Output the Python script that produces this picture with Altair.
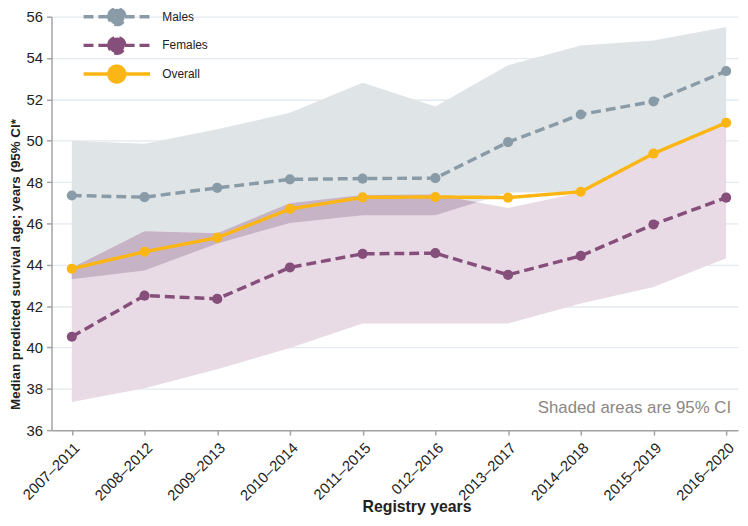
import json
import altair as alt
import pandas as pd

# ---------------- data ----------------
periods = ["2007–2011", "2008–2012", "2009–2013", "2010–2014", "2011–2015",
           "012–2016", "2013–2017", "2014–2018", "2015–2019", "2016–2020"]
series_names = ["Males", "Females", "Overall"]

males = [47.35, 47.27, 47.72, 48.13, 48.17, 48.19, 49.93, 51.27, 51.90, 53.37]
females = [40.52, 42.51, 42.35, 43.87, 44.53, 44.56, 43.51, 44.43, 45.95, 47.25]
overall = [43.81, 44.63, 45.31, 46.70, 47.26, 47.28, 47.25, 47.53, 49.38, 50.87]

males_hi = [50.00, 49.85, 50.55, 51.35, 52.80, 51.65, 53.65, 54.60, 54.85, 55.50]
males_lo = [43.30, 43.72, 45.03, 46.02, 46.39, 46.40, 47.50, 47.50, 49.38, 50.87]
females_hi = [43.85, 45.62, 45.53, 46.98, 47.38, 47.40, 46.75, 47.50, 49.38, 50.87]
females_lo = [37.36, 38.03, 38.95, 39.97, 41.16, 41.16, 41.16, 42.13, 42.92, 44.32]

note_text = "Shaded areas are 95% CI"

# ---------------- tables built from the arrays ----------------
n = len(periods)
idx = list(range(n))
band_df = pd.DataFrame({"idx": idx, "m_lo": males_lo, "m_hi": males_hi,
                        "f_lo": females_lo, "f_hi": females_hi})

# overlap of the two confidence bands (where both are present)
def top(i):
    return min(males_hi[i], females_hi[i])

def bot(i):
    return max(males_lo[i], females_lo[i])

ov_rows = []
for i in idx:
    d0 = top(i) - bot(i)
    if d0 > 0:
        ov_rows.append({"idx": i, "lo": bot(i), "hi": top(i)})
    if i < n - 1:
        d1 = top(i + 1) - bot(i + 1)
        if (d0 > 0) != (d1 > 0) and d0 != d1:
            t = d0 / (d0 - d1)
            yc = top(i) + t * (top(i + 1) - top(i))
            ov_rows.append({"idx": i + t, "lo": yc, "hi": yc})
overlap_df = pd.DataFrame(ov_rows)

long_rows = []
for name, vals in zip(series_names, [males, females, overall]):
    for i, v in zip(idx, vals):
        long_rows.append({"series": name, "idx": i, "value": v})
long_df = pd.DataFrame(long_rows)
note_df = pd.DataFrame({"note": [note_text]})

# ---------------- styling ----------------
FONT = "Liberation Sans"
TXT = "#222222"
AX = "#a3a3a3"
line_colors = ["#8a9ba8", "#864f7b", "#fbb616"]
dashes = [[10, 5], [10, 5], [1, 0]]
widths = [3.5, 3.5, 2]

x_scale = alt.Scale(domain=[-0.279, 9.163], nice=False, zero=False)
y_scale = alt.Scale(domain=[36, 56], nice=False, zero=False)

x_axis = alt.Axis(values=idx,
                  labelExpr=json.dumps(periods, ensure_ascii=False) + "[datum.value]",
                  labelAngle=315, labelFontSize=15, labelColor=TXT, labelPadding=5,
                  grid=False, domainColor=AX, domainWidth=1.5,
                  tickColor=AX, tickWidth=1.5, tickSize=5,
                  title="Registry years", titleFontSize=16, titleFontWeight="bold",
                  titleColor=TXT, titleX=369, titleY=82, titleBaseline="alphabetic",
                  titleAlign="center")
y_axis = alt.Axis(values=list(range(36, 57, 2)), grid=True, gridColor="#e4eaef",
                  gridWidth=1.3, domainColor=AX, domainWidth=1.5,
                  tickColor=AX, tickWidth=1.5, tickSize=5,
                  labelFontSize=15, labelColor=TXT, labelPadding=4,
                  title="Median predicted survival age; years (95% CI*",
                  titleFontSize=13.5, titleFontWeight="bold", titleColor=TXT,
                  titleX=-32, titleY=397, titleAngle=270, titleAlign="left",
                  titleBaseline="alphabetic")

def X():
    return alt.X("idx:Q", scale=x_scale, axis=x_axis)

def Y(field):
    return alt.Y(field, scale=y_scale, axis=y_axis)

r, L = 1.0, 4.2
sym_path = (f"M{-L},0L{-r},0M{r},0L{L},0"
            f"M{-r},0A{r},{r},0,1,1,{r},0A{r},{r},0,1,1,{-r},0Z")
legend = alt.Legend(title=None, orient="none", legendX=56, legendY=-10,
                    symbolType=sym_path, symbolSize=256, labelOffset=36,
                    rowPadding=-1, labelFontSize=12, labelColor=TXT, labelFont=FONT,
                    padding=0, symbolOpacity=1)

color_enc = alt.Color("series:N", scale=alt.Scale(domain=series_names, range=line_colors),
                      legend=legend)
dash_enc = alt.StrokeDash("series:N", scale=alt.Scale(domain=series_names, range=dashes),
                          legend=legend)
width_enc = alt.StrokeWidth("series:N", scale=alt.Scale(domain=series_names, range=widths),
                            legend=legend)

# ---------------- layers ----------------
male_band = alt.Chart(band_df).mark_area(color="#dfe4e7", opacity=1).encode(
    x=X(), y=Y("m_lo:Q"), y2="m_hi:Q")
female_band = alt.Chart(band_df).mark_area(color="#e8dbe5", opacity=1).encode(
    x=X(), y=Y("f_lo:Q"), y2="f_hi:Q")
overlap_band = alt.Chart(overlap_df).mark_area(color="#c7b3c6", opacity=1).encode(
    x=X(), y=Y("lo:Q"), y2="hi:Q")

lines = alt.Chart(long_df).mark_line().encode(
    x=X(), y=Y("value:Q"), color=color_enc, strokeDash=dash_enc, strokeWidth=width_enc,
    order="idx:Q")
points = alt.Chart(long_df).mark_circle(size=105, opacity=1).encode(
    x=X(), y=Y("value:Q"), color=color_enc)

note = alt.Chart(note_df).mark_text(align="right", baseline="middle", fontSize=17,
                                    color="#8c8782", font=FONT).encode(
    text="note:N", x=alt.value(687), y=alt.value(396))

chart = alt.layer(male_band, female_band, overlap_band, lines, points, note).properties(
    width=694, height=418,
    autosize=alt.AutoSizeParams(type="none"),
    padding={"left": 44, "top": 6, "right": 2, "bottom": 84},
).configure(font=FONT).configure_view(stroke=None)

chart.save("out.html", embed_options={"renderer": "svg", "actions": False})
